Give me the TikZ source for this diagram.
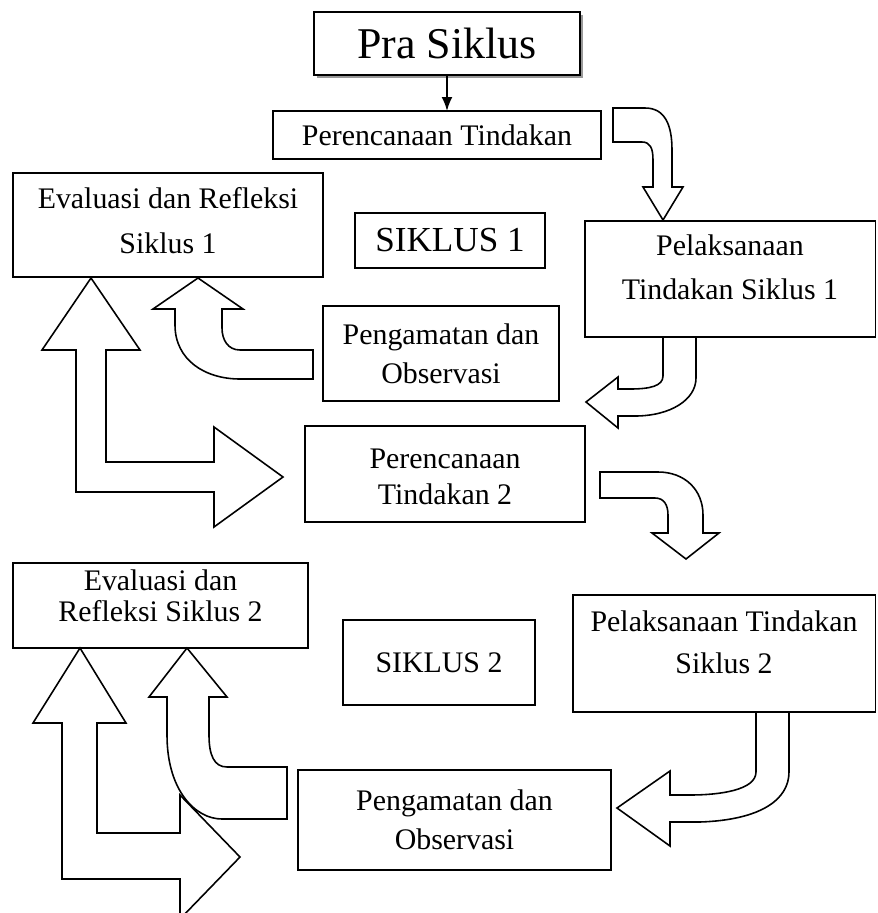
\documentclass[tikz,border=0pt]{standalone}
\usepackage{fontspec}
\setmainfont{Liberation Serif}
\usetikzlibrary{arrows.meta,shadows}

\begin{document}
\begin{tikzpicture}[x=0.02cm, y=-0.02cm,
    box/.style={draw, line width=1.1pt, inner sep=0pt, outer sep=0pt},
    txt/.style={align=center, inner sep=0pt, font=\fontsize{17}{22}\selectfont},
    bigarrow/.style={draw, line width=0.9pt, fill=white, line join=miter}]
    \clip (0,0) rectangle (877,913);

    % Block arrows of cycle 1
    \draw[bigarrow] (613,108) -- (645,108) .. controls (665,108) and (672,125) .. (672,150) -- (672,187) -- (683,187) -- (663,220) -- (643,187) -- (653,187) -- (653,160) .. controls (653,148) and (650,142) .. (642,142) -- (613,142) -- cycle;
    \draw[bigarrow] (663,337) -- (663,376) .. controls (663,386) and (650,389) .. (630,389) -- (618,389) -- (618,377) -- (586,402) -- (618,428) -- (618,416) -- (635,416) .. controls (670,416) and (696,400) .. (696,378) -- (696,337) -- cycle;
    \draw[bigarrow] (313,350) -- (240,350) .. controls (228,350) and (222,340) .. (222,328) -- (222,309) -- (243,309) -- (198,278) -- (153,309) -- (175,309) -- (175,325) .. controls (175,360) and (205,379) .. (240,379) -- (313,379) -- cycle;
    \draw[bigarrow] (76,350) -- (42,350) -- (91,278) -- (140,350) -- (106,350) -- (106,462) -- (214,462) -- (214,427) -- (283,477) -- (214,527) -- (214,492) -- (76,492) -- cycle;

    % Block arrows of cycle 2
    \draw[bigarrow] (600,472) -- (658,472) .. controls (685,472) and (703,490) .. (703,515) -- (703,533) -- (719,533) -- (686,559) -- (652,533) -- (668,533) -- (668,515) .. controls (668,505) and (664,498) .. (655,498) -- (600,498) -- cycle;
    \draw[bigarrow] (756,712) -- (756,772) .. controls (756,790) and (720,795) .. (690,795) -- (670,795) -- (670,771) -- (617,808) -- (670,846) -- (670,822) -- (700,822) .. controls (760,820) and (789,800) .. (789,772) -- (789,712) -- cycle;
    \draw[bigarrow] (62,723) -- (33,723) -- (80,648) -- (126,723) -- (97,723) -- (97,833) -- (180,833) -- (180,795) -- (240,857) -- (180,919) -- (180,879) -- (62,879) -- cycle;
    \draw[bigarrow] (287,767) -- (227,767) .. controls (214,767) and (209,755) .. (209,735) -- (209,697) -- (227,697) -- (187,648) -- (149,697) -- (167,697) -- (167,735) .. controls (167,790) and (195,819) .. (222,819) -- (287,819) -- cycle;

    % Boxes
    \node[box, fill=white, minimum width=5.32cm, minimum height=1.26cm,
        drop shadow={shadow xshift=0.06cm, shadow yshift=-0.06cm, fill=gray!80, opacity=1},
        label={[txt, font=\fontsize{25}{30}\selectfont]center:Pra Siklus}] (pra) at (447,43.5) {};
    \node[box, minimum width=6.56cm, minimum height=0.96cm,
        label={[txt]center:Perencanaan Tindakan}] (per1) at (437,135) {};
    \node[box, minimum width=6.2cm, minimum height=2.08cm,
        label={[txt, font=\fontsize{17}{25.5}\selectfont, yshift=2.6pt]center:{Evaluasi dan Refleksi\\Siklus 1}}] (eval1) at (168,225) {};
    \node[box, minimum width=3.8cm, minimum height=1.1cm,
        label={[txt, font=\fontsize{20}{24}\selectfont]center:SIKLUS 1}] (sik1) at (450,240.5) {};
    \node[box, minimum width=5.82cm, minimum height=2.32cm,
        label={[txt, font=\fontsize{17}{25}\selectfont, yshift=6.8pt]center:{Pelaksanaan\\Tindakan Siklus 1}}] (pel1) at (730,279) {};
    \node[box, minimum width=4.72cm, minimum height=1.9cm,
        label={[txt]center:{Pengamatan dan\\Observasi}}] (pen1) at (441,353.5) {};
    \node[box, minimum width=5.6cm, minimum height=1.92cm,
        label={[txt, font=\fontsize{17}{20.5}\selectfont, yshift=-1.7pt]center:{Perencanaan\\Tindakan 2}}] (per2) at (445,474) {};
    \node[box, minimum width=5.9cm, minimum height=1.7cm,
        label={[txt, font=\fontsize{17}{17.5}\selectfont, yshift=5.4pt]center:{Evaluasi dan\\Refleksi Siklus 2}}] (eval2) at (160.5,605.5) {};
    \node[box, minimum width=3.84cm, minimum height=1.7cm,
        label={[txt]center:SIKLUS 2}] (sik2) at (439,662.5) {};
    \node[box, minimum width=6.06cm, minimum height=2.34cm,
        label={[txt, font=\fontsize{17}{23.8}\selectfont, yshift=6.5pt]center:{Pelaksanaan Tindakan\\Siklus 2}}] (pel2) at (724,653.5) {};
    \node[box, minimum width=6.26cm, minimum height=2cm,
        label={[txt]center:{Pengamatan dan\\Observasi}}] (pen2) at (454.5,820) {};

    % Start arrow
    \draw[line width=1.1pt, -{Latex[length=0.28cm, width=0.22cm]}] (pra.south) -- (pra.south |- per1.north);
\end{tikzpicture}
\end{document}
